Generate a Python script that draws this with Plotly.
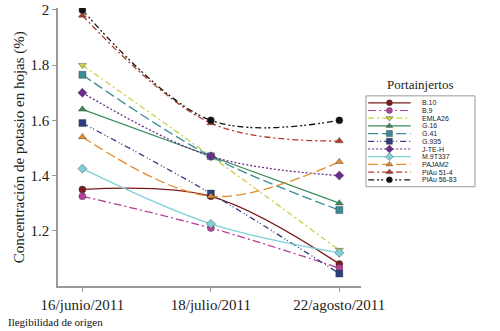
import plotly.graph_objects as go

dates = ["16/junio/2011", "18/julio/2011", "22/agosto/2011"]
names = ["B.10", "B.9", "EMLA26", "G.16", "G.41", "G.935", "J-TE-H",
         "M.9T337", "PAJAM2", "PiAu 51-4", "PiAu 56-83"]
b10 = [1.35, 1.325, 1.08]
b9 = [1.325, 1.21, 1.065]
emla26 = [1.80, 1.47, 1.13]
g16 = [1.64, 1.47, 1.30]
g41 = [1.765, 1.47, 1.275]
g935 = [1.59, 1.335, 1.045]
jteh = [1.70, 1.47, 1.40]
m9t337 = [1.425, 1.225, 1.12]
pajam2 = [1.54, 1.325, 1.45]
piau514 = [1.98, 1.59, 1.525]
piau5683 = [2.00, 1.60, 1.60]
series = [b10, b9, emla26, g16, g41, g935, jteh, m9t337, pajam2, piau514, piau5683]

colors = ["#7B1C1C", "#B8409A", "#C9D14A", "#3C8C5C", "#3A8C98", "#2C3E80",
          "#6B2D8A", "#7FD0D8", "#E38B2E", "#B23A2A", "#111111"]
dashes = ["solid", "8px,3px,2px,3px", "6px,3px,2px,3px", "solid", "10px,4px",
          "6px,3px,1px,2px,1px,3px", "2px,2px", "solid", "10px,4px",
          "6px,3px,2px,3px", "6px,3px,2px,2px,2px,3px"]
symbols = ["circle", "circle", "triangle-down", "triangle-up", "square", "square",
           "diamond", "diamond", "triangle-up", "triangle-up", "circle"]

xpos = list(range(len(dates)))
fig = go.Figure()
for name, ys, c, d, s in zip(names, series, colors, dashes, symbols):
    fig.add_trace(go.Scatter(
        x=xpos, y=ys, mode="lines+markers", name=name, showlegend=False,
        line=dict(color=c, width=1.3, dash=d, shape="spline"),
        marker=dict(symbol=s, size=7, color=c, line=dict(color="#333", width=0.4)),
        xaxis="x", yaxis="y"))

# custom legend drawn in a small axes region
for i, (name, c, d, s) in enumerate(zip(names, colors, dashes, symbols)):
    fig.add_trace(go.Scatter(
        x=[0.02, 0.41], y=[i, i], mode="lines", showlegend=False, hoverinfo="skip",
        line=dict(color=c, width=1.2, dash=d), xaxis="x2", yaxis="y2"))
    fig.add_trace(go.Scatter(
        x=[0.215], y=[i], mode="markers", showlegend=False, hoverinfo="skip",
        marker=dict(symbol=s, size=6, color=c, line=dict(color="#333", width=0.4)),
        xaxis="x2", yaxis="y2"))
    fig.add_annotation(x=0.5, y=i, xref="x2", yref="y2", text=name, showarrow=False,
                       xanchor="left", yanchor="middle",
                       font=dict(family="Liberation Sans", size=7, color="#222"))

fig.add_shape(type="rect", xref="x2 domain", yref="y2 domain", x0=0, x1=1, y0=0, y1=1,
              line=dict(color="#999", width=1))

fig.add_annotation(x=0.5, y=1.02, xref="x2 domain", yref="y2 domain", text="Portainjertos",
                   showarrow=False, xanchor="center", yanchor="bottom",
                   font=dict(family="Liberation Serif", size=13, color="#222"))

fig.add_annotation(x=-0.093, y=0.5, xref="paper", yref="paper",
                   text="Concentración de potasio en hojas (%)", textangle=-90,
                   showarrow=False, xanchor="center", yanchor="middle",
                   font=dict(family="Liberation Serif", size=15, color="#222"))
fig.add_annotation(x=-0.125, y=-0.131, xref="paper", yref="paper",
                   text="Ilegibilidad de origen", showarrow=False,
                   xanchor="left", yanchor="middle",
                   font=dict(family="Liberation Serif", size=11, color="#111"))

fig.update_layout(
    width=500, height=331,
    margin=dict(l=58, r=2, t=4, b=45),
    paper_bgcolor="white", plot_bgcolor="white",
    font=dict(family="Liberation Serif", size=14, color="#222"),
    xaxis=dict(domain=[0, 0.727], range=[-0.19, 2.17], tickvals=xpos, ticktext=dates,
               showline=True, linecolor="#999", linewidth=1.5, ticks="outside",
               ticklen=4, tickcolor="#999", showgrid=False, zeroline=False,
               ticklabeloverflow="allow",
               tickfont=dict(family="Liberation Serif", size=15, color="#222")),
    yaxis=dict(range=[1.0, 2.007], tickvals=[1.2, 1.4, 1.6, 1.8, 2.0],
               ticktext=["1.2", "1.4", "1.6", "1.8", "2"],
               showline=True, linecolor="#999", linewidth=1.5, ticks="outside",
               ticklen=4, tickcolor="#999", showgrid=False, zeroline=False,
               ticklabeloverflow="allow",
               tickfont=dict(family="Liberation Serif", size=15, color="#222")),
    xaxis2=dict(domain=[0.7386, 1.0], range=[0, 1], visible=False, anchor="y2"),
    yaxis2=dict(domain=[0.357, 0.684], range=[10.9, -0.9], visible=False, anchor="x2"),
)

fig.write_html("out.html", config={"displayModeBar": False},
               post_script="document.body.style.margin='0';document.body.style.overflow='hidden';")
